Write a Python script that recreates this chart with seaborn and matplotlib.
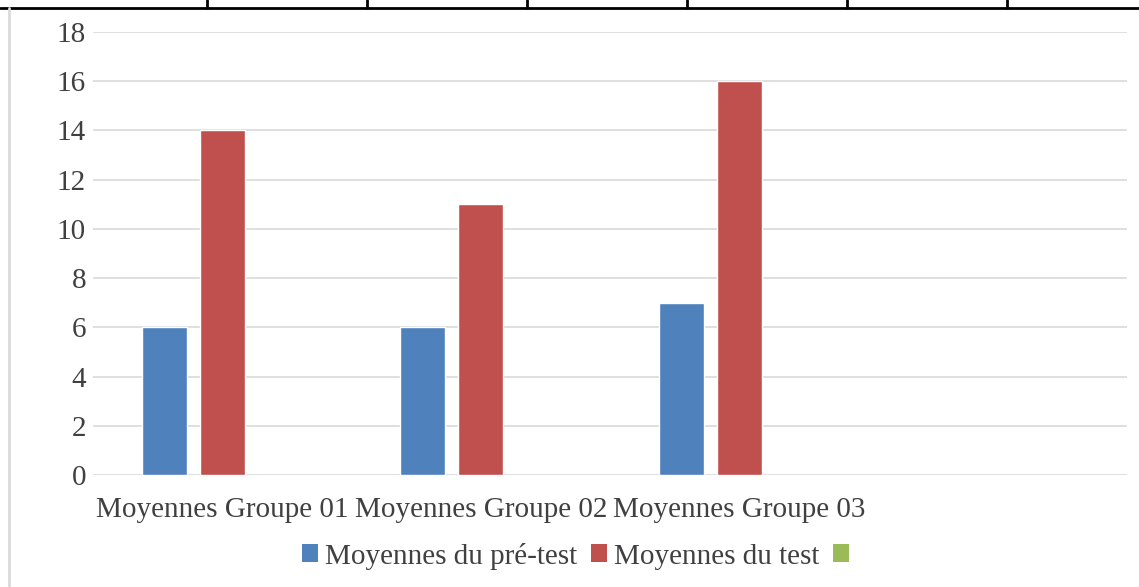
import matplotlib
matplotlib.use("Agg")
import matplotlib.pyplot as plt
import matplotlib.patches as mpatches
from matplotlib.lines import Line2D
import seaborn as sns
import pandas as pd
import numpy as np

categories = ["Moyennes Groupe 01", "Moyennes Groupe 02", "Moyennes Groupe 03", ""]
series = ["Moyennes du pré-test", "Moyennes du test", ""]
pre_test = [6, 6, 7, np.nan]
test = [14, 11, 16, np.nan]
third = [np.nan, np.nan, np.nan, np.nan]
yticks = [0, 2, 4, 6, 8, 10, 12, 14, 16, 18]
colors = ["#4F81BD", "#C0504D", "#9BBB59"]

rows = []
for vals, s in zip([pre_test, test, third], ["s1", "s2", "s3"]):
    for c, v in zip(categories, vals):
        rows.append({"cat": c, "serie": s, "val": v})
df = pd.DataFrame(rows)

sns.set_style("white")
plt.rcParams["font.family"] = ["Liberation Serif", "DejaVu Serif"]

W, H = 1139, 587
fig = plt.figure(figsize=(W / 100, H / 100), dpi=100)
ax = fig.add_axes([93 / W, 112 / H, (1127 - 93) / W, (475 - 32) / H])

sns.barplot(data=df, x="cat", y="val", hue="serie", order=categories,
            hue_order=["s1", "s2", "s3"], palette=colors, width=0.673, gap=0.224,
            errorbar=None, ax=ax, legend=False, saturation=1)

ax.set_xlim(-0.5, len(categories) - 0.5)
ax.set_ylim(0, 18)
ax.set_yticks(yticks)
ax.set_yticklabels([str(t) for t in yticks])
ax.grid(axis="y", color="#d9d9d9", lw=1.2)
ax.set_axisbelow(True)
for s in ["top", "right", "left", "bottom"]:
    ax.spines[s].set_visible(False)
ax.tick_params(axis="both", length=0, labelsize=21, labelcolor="#404040")
ax.tick_params(axis="y", pad=5)
ax.tick_params(axis="x", pad=16)
ax.set_xlabel("")
ax.set_ylabel("")

handles = [mpatches.Patch(facecolor=c, edgecolor="none") for c in colors]
fig.legend(handles, series, loc="center", bbox_to_anchor=(579 / W, 1 - 556 / H),
           ncol=3, frameon=False, fontsize=21, labelcolor="#404040",
           handlelength=0.55, handleheight=0.55, handletextpad=0.25,
           columnspacing=0.45)

# page decorations: table border at top and left rule
ytop = 1 - 7.5 / H
fig.add_artist(Line2D([0, 1], [ytop, ytop], transform=fig.transFigure, color="black", lw=2))
for xp in [207, 367, 527, 687, 847, 1007]:
    fig.add_artist(Line2D([xp / W, xp / W], [ytop, 1], transform=fig.transFigure, color="black", lw=2))
fig.add_artist(Line2D([9 / W, 9 / W], [0, ytop], transform=fig.transFigure, color="#d9d9d9", lw=2))

fig.savefig("out.png", dpi=100)
